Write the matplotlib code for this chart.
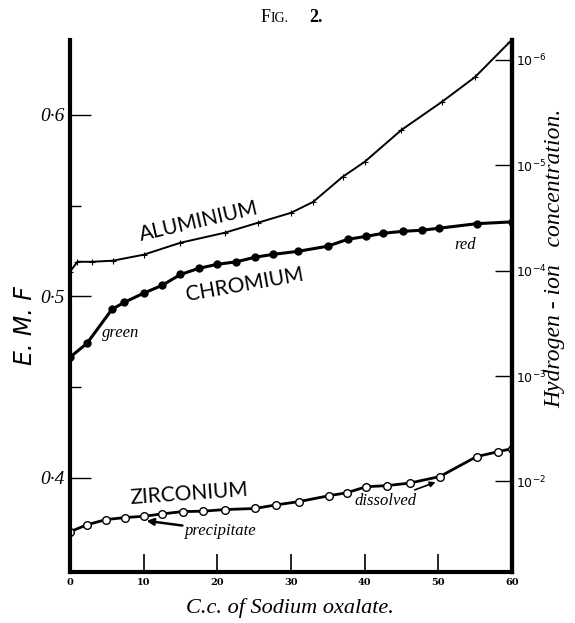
import matplotlib
matplotlib.use("Agg")
import matplotlib.pyplot as plt
import numpy as np

########## Data ##########

al_cc = [0, 1, 3, 5.8, 10, 15, 21, 25.5, 30, 33, 37, 40, 45, 50.5, 55, 59.7]
al_emf = [0.5135, 0.519, 0.519, 0.5196, 0.5229, 0.5295, 0.535, 0.5405,
          0.546, 0.552, 0.5658, 0.5741, 0.5917, 0.6072, 0.6209, 0.6402]

cr_cc = [0, 2.3, 5.7, 7.4, 10, 12.5, 15, 17.5, 20, 22.6, 25.1, 27.6,
         31, 35, 37.7, 40.2, 42.5, 45.2, 47.8, 50.1, 55.2, 60]
cr_emf = [0.4664, 0.474, 0.4928, 0.4967, 0.5017, 0.506, 0.512, 0.5154,
          0.5176, 0.519, 0.5215, 0.5231, 0.5248, 0.5276, 0.5314, 0.533,
          0.5347, 0.5358, 0.5364, 0.5375, 0.540, 0.541]

zr_cc = [0, 2.3, 4.9, 7.5, 10, 12.5, 15.3, 18, 21, 25.1, 28, 31.1,
         35.1, 37.6, 40.2, 43, 46.1, 50.2, 55.2, 58.1, 60]
zr_emf = [0.3702, 0.374, 0.3769, 0.378, 0.3787, 0.380, 0.3813, 0.3815,
          0.3824, 0.383, 0.385, 0.3868, 0.390, 0.3917, 0.395, 0.3956,
          0.397, 0.4006, 0.4116, 0.4143, 0.416]

x_ticks = [0, 10, 20, 30, 40, 50, 60]
y_major = [0.4, 0.5, 0.6]
y_major_labels = ["0·4", "0·5", "0·6"]
y_minor = [0.45, 0.55]
h_exponents = [2, 3, 4, 5, 6]

# E.M.F. corresponding to [H+] = 1e-6, and volts per decade
e_ref = 0.6303
slope = 0.0581

###########################

fig = plt.figure(figsize=(5.75, 6.23), dpi=100)
ax = fig.add_axes([0.1217, 0.0819, 0.7687, 0.854])

ax.plot(al_cc, al_emf, color="black", lw=1.4, marker="+", ms=4.5, mew=0.8)
ax.plot(cr_cc, cr_emf, color="black", lw=2.2, marker="o", ms=5)
ax.plot(zr_cc, zr_emf, color="black", lw=2.0, marker="o", ms=5.5,
        mfc="white", mec="black", mew=1.0)

ax.set_xlim(0, 60)
ax.set_ylim(0.348, 0.6413)

for side in ["left", "bottom", "right"]:
    ax.spines[side].set_linewidth(3)
ax.spines["top"].set_visible(False)

ax.set_xticks(x_ticks)
ax.set_xticklabels([str(v) for v in x_ticks])
ax.tick_params(axis="x", direction="in", length=13, width=1.2, pad=4,
               labelsize=7)
for lbl in ax.get_xticklabels():
    lbl.set_fontweight("bold")
    lbl.set_family("DejaVu Serif")

ax.set_yticks(y_major)
ax.set_yticklabels(y_major_labels)
ax.set_yticks(y_minor, minor=True)
ax.tick_params(axis="y", which="major", direction="in", length=15, width=1.0,
               pad=4, labelsize=14)
ax.tick_params(axis="y", which="minor", direction="in", length=8, width=1.0)
for lbl in ax.get_yticklabels():
    lbl.set_style("italic")
    lbl.set_family("Liberation Serif")

# right hand scale: hydrogen-ion concentration
sec = ax.secondary_yaxis("right",
                         functions=(lambda e: 6 + (e - e_ref) / slope,
                                    lambda p: e_ref + (p - 6) * slope))
sec.spines["right"].set_linewidth(3)
sec.set_yticks(h_exponents)
sec.set_yticklabels([f"$10^{{-{p}}}$" for p in h_exponents])
sec.tick_params(direction="in", length=12, width=1.0, pad=3, labelsize=9)

# curve labels
label_font = dict(family="Lato", fontweight="normal", fontsize=15,
                  color="black", ha="center", va="center")
ax.text(17.5, 0.541, "ALUMINIUM", rotation=13, **label_font)
ax.text(23.7, 0.5063, "CHROMIUM", rotation=10, **label_font)
ax.text(16.1, 0.3912, "ZIRCONIUM", rotation=4, **label_font)

ax.text(6.9, 0.480, "green", style="italic", family="Liberation Serif",
        fontsize=12, ha="center", va="center")
ax.text(53.6, 0.528, "red", style="italic", family="Liberation Serif",
        fontsize=12, ha="center", va="center")
ax.annotate("precipitate", xy=(10.2, 0.3763), xytext=(20.5, 0.3708),
            style="italic", family="Liberation Serif", fontsize=12,
            ha="center", va="center",
            arrowprops=dict(arrowstyle="-|>", color="black", lw=1.8,
                            shrinkA=34, shrinkB=1, mutation_scale=10))
ax.annotate("dissolved", xy=(49.8, 0.3978), xytext=(42.9, 0.3873),
            style="italic", family="Liberation Serif", fontsize=12,
            ha="center", va="center",
            arrowprops=dict(arrowstyle="-|>", color="black", lw=1.2,
                            shrinkA=28, shrinkB=1, mutation_scale=8))

# titles and axis labels
fig.text(0.470, 0.972, "F", family="Liberation Serif", fontsize=13,
         ha="right", va="center")
fig.text(0.470, 0.970, "IG.", family="Liberation Serif", fontsize=10,
         ha="left", va="center")
fig.text(0.538, 0.972, "2.", family="Liberation Serif", fontsize=13,
         fontweight="bold", ha="left", va="center")
fig.text(0.0435, 0.477, "E. M. F", rotation=90, style="italic", fontsize=17,
         ha="center", va="center")
fig.text(0.965, 0.586, "Hydrogen - ion   concentration.", rotation=90,
         style="italic", family="Liberation Serif", fontsize=17,
         ha="center", va="center")
fig.text(0.504, 0.024, "C.c. of Sodium oxalate.", style="italic",
         family="Liberation Serif", fontsize=16, ha="center", va="center")

fig.savefig("out.png", dpi=100)
